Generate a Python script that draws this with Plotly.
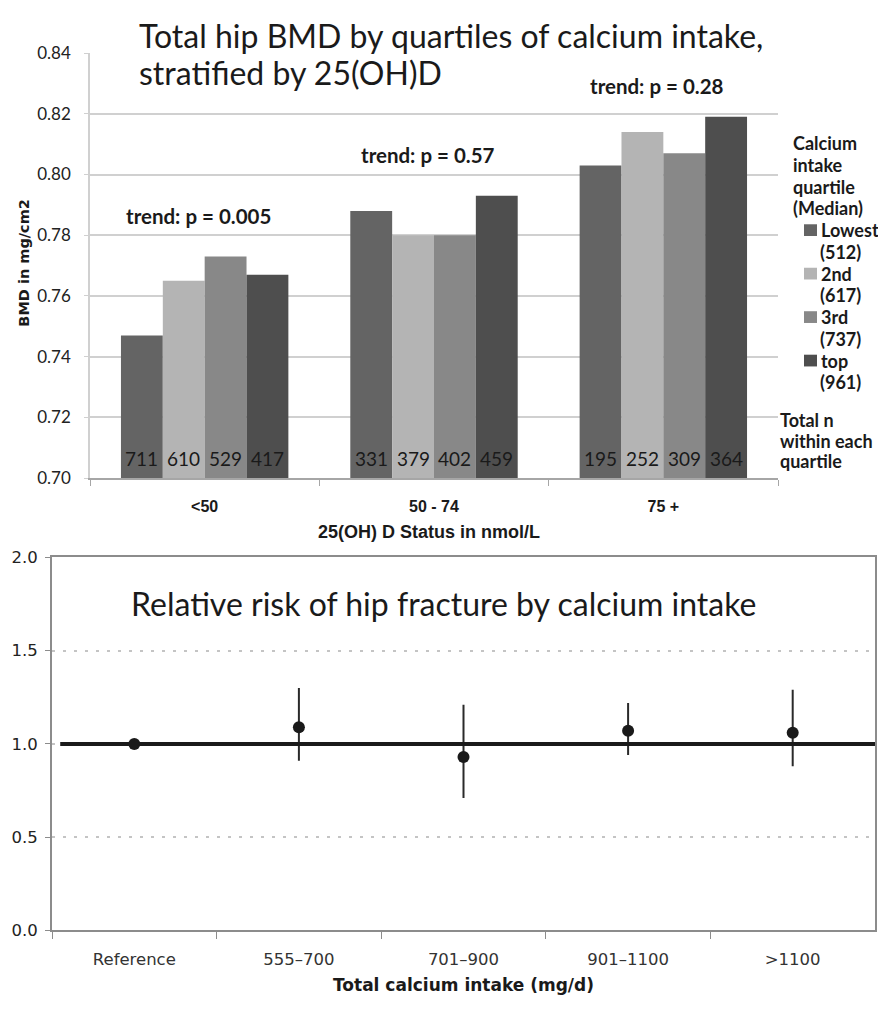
import plotly.graph_objects as go

W, H = 878, 1009

# ---------------- data: top chart ----------------
VITD_CATS = ["<50", "50 - 74", "75 +"]
Q_NAMES = ["Lowest", "2nd", "3rd", "top"]
Q_MEDIANS = ["(512)", "(617)", "(737)", "(961)"]
Q_COLORS = ["#646464", "#b4b4b4", "#888888", "#4e4e4e"]
BMD_LOWEST = [0.747, 0.788, 0.803]
BMD_2ND = [0.765, 0.780, 0.814]
BMD_3RD = [0.773, 0.780, 0.807]
BMD_TOP = [0.767, 0.793, 0.819]
N_LOWEST = [711, 331, 195]
N_2ND = [610, 379, 252]
N_3RD = [529, 402, 309]
N_TOP = [417, 459, 364]
COUNT_LABEL_Y = 0.7065
TREND_TEXT = ["trend: p = 0.005", "trend: p = 0.57", "trend: p = 0.28"]
TREND_Y = [0.7865, 0.8065, 0.829]
BMD_MIN, BMD_MAX, BMD_STEP = 0.70, 0.84, 0.02
LEGEND_TITLE = ["Calcium", "intake", "quartile", "(Median)"]
N_NOTE = ["Total n", "within each", "quartile"]

# ---------------- data: bottom chart ----------------
CA_CATS = ["Reference", "555\u2013700", "701\u2013900", "901\u20131100", ">1100"]
RR = [1.00, 1.09, 0.93, 1.07, 1.06]
RR_LOW = [1.00, 0.91, 0.71, 0.94, 0.88]
RR_HIGH = [1.00, 1.30, 1.21, 1.22, 1.29]
RR_REF = 1.0
RR_TICKS = [0.0, 0.5, 1.0, 1.5, 2.0]


def px_x(p):
    return p / W


def px_y(p):
    return 1 - p / H


BAR_GAP = 0.27
TOP_L, TOP_R, TOP_T, TOP_B = 90, 778, 43, 477
BOT_L, BOT_R, BOT_T, BOT_B = 52, 875, 558, 939
CA_RANGE = [-0.5, len(CA_CATS) - 0.5]

fig = go.Figure()

bmd_series = [BMD_LOWEST, BMD_2ND, BMD_3RD, BMD_TOP]
n_series = [N_LOWEST, N_2ND, N_3RD, N_TOP]
for i, (name, color, vals) in enumerate(zip(Q_NAMES, Q_COLORS, bmd_series)):
    fig.add_trace(go.Bar(
        x=VITD_CATS,
        y=[v - BMD_MIN for v in vals],
        base=BMD_MIN,
        name=name,
        marker=dict(color=color, line=dict(width=0)),
        customdata=vals,
        hovertemplate="%{x}: %{customdata:.3f}<extra>" + name + "</extra>",
        showlegend=False,
        xaxis="x", yaxis="y",
    ))

# reference line at RR = 1 drawn as a trace on a hidden linear overlay axis (below markers)
fig.add_trace(go.Scatter(
    x=[-0.45, CA_RANGE[1]], y=[RR_REF, RR_REF], mode="lines",
    line=dict(color="#1a1a1a", width=4), showlegend=False, hoverinfo="skip",
    xaxis="x3", yaxis="y2",
))

rr_plus = [h - r for h, r in zip(RR_HIGH, RR)]
rr_minus = [r - l for r, l in zip(RR, RR_LOW)]
fig.add_trace(go.Scatter(
    x=CA_CATS, y=RR, mode="markers",
    marker=dict(size=12, color="#1a1a1a"),
    error_y=dict(type="data", symmetric=False, array=rr_plus, arrayminus=rr_minus,
                 thickness=2, width=0, color="#2a2a2a"),
    showlegend=False, xaxis="x2", yaxis="y2",
))

BOLD = dict(family="Lato", size=18, color="#1a1a1a", weight="bold")

annotations = []
# Top titles
annotations.append(dict(text="Total hip BMD by quartiles of calcium intake,", x=px_x(137), y=px_y(25),
                        xref="paper", yref="paper", xanchor="left", yanchor="middle", showarrow=False,
                        font=dict(family="Lato", size=32, color="#1a1a1a")))
annotations.append(dict(text="stratified by 25(OH)D", x=px_x(137), y=px_y(63),
                        xref="paper", yref="paper", xanchor="left", yanchor="middle", showarrow=False,
                        font=dict(family="Lato", size=32, color="#1a1a1a")))
for c, t, ty in zip(VITD_CATS, TREND_TEXT, TREND_Y):
    annotations.append(dict(text=t, x=c, y=ty, xref="x", yref="y", showarrow=False,
                            xanchor="center", yanchor="middle", xshift=-6,
                            font=dict(family="Lato", size=20.5, color="#1a1a1a", weight="bold")))

# n labels near the base of each bar (offset by the grouped-bar slot width)
slot = (TOP_R - TOP_L) / len(VITD_CATS) * (1 - BAR_GAP) / len(n_series)
for i, ns in enumerate(n_series):
    for c, n in zip(VITD_CATS, ns):
        annotations.append(dict(text=str(n), x=c, y=COUNT_LABEL_Y, xref="x", yref="y",
                                xshift=(i - (len(n_series) - 1) / 2) * slot, showarrow=False,
                                xanchor="center", yanchor="middle",
                                font=dict(family="Lato", size=19, color="#1a1a1a")))

# legend (built from text + swatches)
LINE = 22.2
for k, t in enumerate(LEGEND_TITLE):
    annotations.append(dict(text=t, x=px_x(791), y=px_y(135 + LINE * k), xref="paper", yref="paper",
                            xanchor="left", yanchor="middle", showarrow=False, font=BOLD))
shapes = []
for i, (nm, md, col) in enumerate(zip(Q_NAMES, Q_MEDIANS, Q_COLORS)):
    y1 = 135 + LINE * (4 + 2 * i)
    y2 = y1 + LINE
    annotations.append(dict(text=nm, x=px_x(819), y=px_y(y1), xref="paper", yref="paper",
                            xanchor="left", yanchor="middle", showarrow=False, font=BOLD))
    annotations.append(dict(text=md, x=px_x(818), y=px_y(y2), xref="paper", yref="paper",
                            xanchor="left", yanchor="middle", showarrow=False, font=BOLD))
    shapes.append(dict(type="rect", xref="paper", yref="paper",
                       x0=px_x(804), x1=px_x(817), y0=px_y(y1 + 6), y1=px_y(y1 - 6),
                       line=dict(width=0), fillcolor=col))
for k, t in enumerate(N_NOTE):
    annotations.append(dict(text=t, x=px_x(778), y=px_y(418 + 21 * k), xref="paper", yref="paper",
                            xanchor="left", yanchor="middle", showarrow=False, font=BOLD))
annotations.append(dict(text="25(OH) D Status in nmol/L", x=px_x(429), y=px_y(532),
                        xref="paper", yref="paper", xanchor="center", yanchor="middle", showarrow=False,
                        font=dict(family="Liberation Sans", size=18, color="#1a1a1a", weight="bold")))
annotations.append(dict(text="BMD in mg/cm2", x=px_x(24), y=px_y(258), textangle=-90,
                        xref="paper", yref="paper", xanchor="center", yanchor="middle", showarrow=False,
                        font=dict(family="DejaVu Sans", size=14.5, color="#1a1a1a", weight="bold")))
# Bottom titles
annotations.append(dict(text="Relative risk of hip fracture by calcium intake", x=px_x(444), y=px_y(605),
                        xref="paper", yref="paper", xanchor="center", yanchor="middle", showarrow=False,
                        font=dict(family="Lato", size=32, color="#1a1a1a")))
annotations.append(dict(text="Total calcium intake (mg/d)", x=px_x(463), y=px_y(995),
                        xref="paper", yref="paper", xanchor="center", yanchor="middle", showarrow=False,
                        font=dict(family="DejaVu Sans", size=17, color="#1a1a1a", weight="bold")))

fig.update_layout(
    width=W, height=H, margin=dict(l=0, r=0, t=0, b=0),
    paper_bgcolor="white", plot_bgcolor="white",
    barmode="group", bargap=BAR_GAP, bargroupgap=0,
    annotations=annotations, shapes=shapes, showlegend=False,
    xaxis=dict(domain=[px_x(TOP_L), px_x(TOP_R)], anchor="y", type="category",
               showline=True, linecolor="#a6a6a6", linewidth=1.5,
               ticks="outside", tickson="boundaries", ticklen=6, tickcolor="#a6a6a6",
               tickfont=dict(family="Liberation Sans", size=16, color="#1a1a1a", weight="bold"),
               ticklabelstandoff=13, showgrid=False, fixedrange=True),
    yaxis=dict(domain=[px_y(TOP_B), px_y(TOP_T)], anchor="x", range=[BMD_MIN, BMD_MAX],
               dtick=BMD_STEP, tick0=BMD_MIN,
               tickformat=".2f", showgrid=True, gridcolor="#d0d0d0", gridwidth=2,
               showline=True, linecolor="#d0d0d0", linewidth=1.5, zeroline=False,
               ticks="outside", ticklen=4, tickcolor="#d0d0d0",
               tickfont=dict(family="Lato", size=17, color="#222222"), ticklabelstandoff=10,
               fixedrange=True),
    xaxis2=dict(domain=[px_x(BOT_L), px_x(BOT_R)], anchor="y2", type="category", range=CA_RANGE,
                showline=True, mirror=True, linecolor="#8c8c8c", linewidth=2,
                ticks="outside", tickson="boundaries", ticklen=7, tickcolor="#8c8c8c",
                tickfont=dict(family="DejaVu Sans", size=16.5, color="#333333"),
                ticklabelstandoff=13, showgrid=False, fixedrange=True),
    xaxis3=dict(domain=[px_x(BOT_L), px_x(BOT_R)], anchor="y2", overlaying="x2",
                range=CA_RANGE, visible=False, fixedrange=True),
    yaxis2=dict(domain=[px_y(BOT_B), px_y(BOT_T)], anchor="x2", range=[0, 2], tickvals=RR_TICKS,
                tickformat=".1f",
                showgrid=True, gridcolor="#c4c4c4", gridwidth=1.5, griddash="3px,8px",
                showline=True, mirror=True, linecolor="#8c8c8c", linewidth=2, zeroline=False,
                ticks="outside", ticklen=5, tickcolor="#8c8c8c",
                tickfont=dict(family="DejaVu Sans", size=16.5, color="#222222"), ticklabelstandoff=4,
                fixedrange=True),
)

fig.write_html("out.html")
